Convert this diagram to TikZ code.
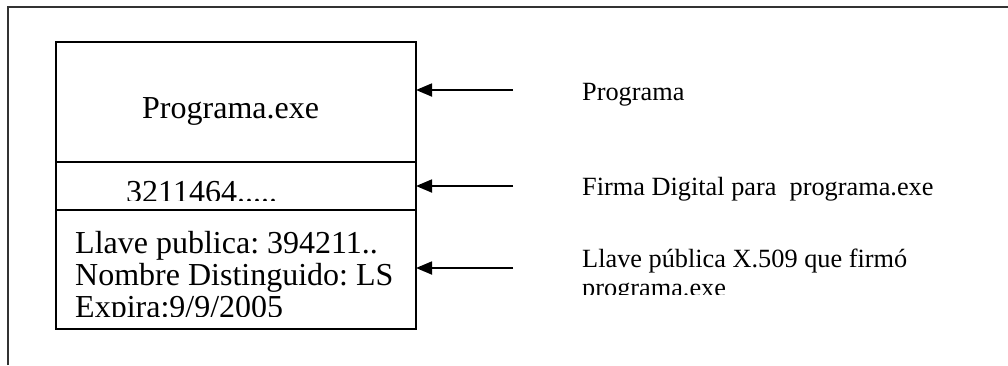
\documentclass[tikz,border=0pt]{standalone}
\usepackage{fontspec}
\setmainfont{Liberation Serif}
\usetikzlibrary{arrows.meta}
\frenchspacing
\begin{document}
\begin{tikzpicture}[x=1pt,y=-1pt,
  cell/.style={draw, line width=1.5pt, inner sep=0pt, outer sep=0pt,
               minimum width=360pt, anchor=north west},
  pointer/.style={line width=1.8pt, -{Triangle[length=16pt,width=13pt]}},
  boxtext/.style={anchor=base west, inner sep=0pt, font=\fontsize{32}{32}\selectfont\frenchspacing},
  labeltext/.style={anchor=base west, inner sep=0pt, font=\fontsize{26.3}{26.3}\selectfont\frenchspacing}]
\useasboundingbox (0,0) rectangle (1008,365);

% open outer frame
\draw[line width=2pt, black!80] (7.5,365) -- (7.5,7) -- (1008,7);

% the signed file: program, signature, certificate
\node[cell, minimum height=120pt] (prog)  at (56,42)  {};
\node[cell, minimum height=48pt]  (firma) at (56,162) {};
\node[cell, minimum height=119pt] (cert)  at (56,210) {};

\node[boxtext] (progname) at (142,118) {Programa.exe};
\begin{scope}
  \clip (56,162) rectangle (416,200);
  \node[boxtext] (sig) at (126,202) {3211464.....};
\end{scope}
\begin{scope}
  \clip (56,210) rectangle (416,316);
  \node[boxtext] (certA) at (75,253) {Llave publica: 394211..};
  \node[boxtext] (certB) at (75,285) {Nombre Distinguido: LS};
  \node[boxtext] (certC) at (75,317) {Expira:9/9/2005};
\end{scope}

% descriptions
\node[labeltext] (lblA) at (582,100) {Programa};
\node[labeltext] (lblB) at (582,195) {Firma Digital para\ \ programa.exe};
\begin{scope}
  \clip (560,230) rectangle (1000,294);
  \node[labeltext] (lblC) at (582,267) {Llave pública X.509 que firmó};
  \node[labeltext] (lblD) at (582,296) {programa.exe};
\end{scope}

% pointers
\coordinate (tA) at (513,90);
\coordinate (tB) at (513,186);
\coordinate (tC) at (513,268);
\draw[pointer] (tA) -- (tA -| prog.east);
\draw[pointer] (tB) -- (tB -| firma.east);
\draw[pointer] (tC) -- (tC -| cert.east);
\end{tikzpicture}
\end{document}
